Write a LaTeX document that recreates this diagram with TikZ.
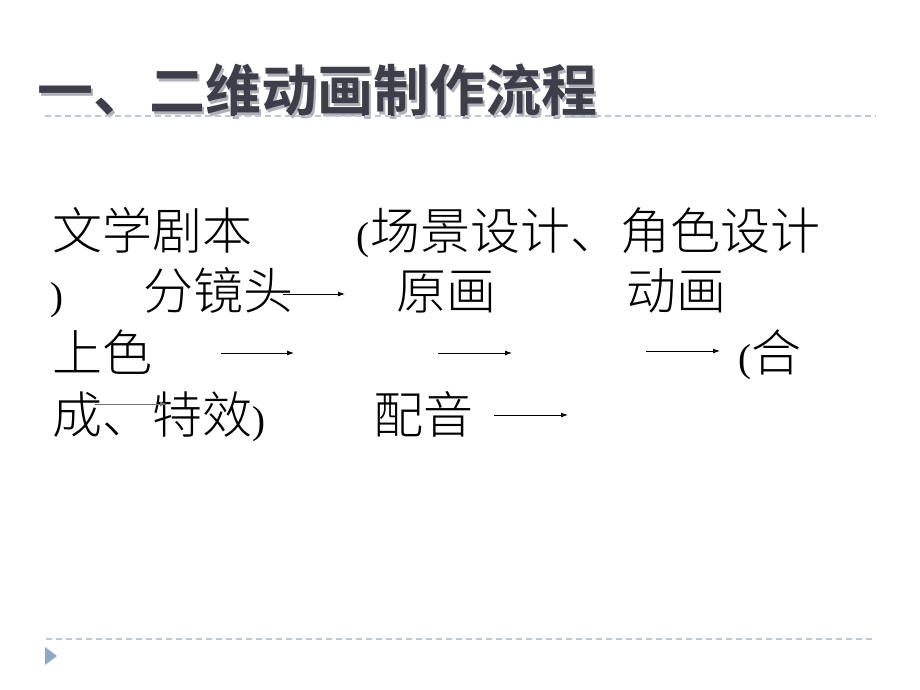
\documentclass[tikz,border=0pt]{standalone}
\usepackage{fontspec}
\newfontfamily\cjkbold{Noto Sans CJK SC Bold}
\newfontfamily\cjklight{Noto Sans CJK SC Light}
\newfontfamily\lser{Liberation Serif}
\usetikzlibrary{arrows.meta}
\definecolor{titlecol}{HTML}{3E3E4A}
\definecolor{shadowcol}{HTML}{B0B0B8}
\definecolor{rulecol}{HTML}{BCC8D8}
\definecolor{tricol}{HTML}{8FA8C8}
\newcommand{\lp}{{\lser\fontsize{39}{42}\selectfont(}}
\newcommand{\rp}{{\lser\fontsize{39}{42}\selectfont)}}
\tikzset{
  body/.style={anchor=base west, inner sep=0pt, font=\cjklight\fontsize{50}{54}\selectfont, text=black},
  titletext/.style={anchor=base west, inner sep=0pt, font=\cjkbold\fontsize{56}{60}\selectfont},
  rule/.style={draw=rulecol, line width=1.4pt, dash pattern=on 6pt off 4pt},
  flow/.style={-{Latex[length=7pt,width=5pt]}, line width=0.9pt, black},
}
\begin{document}
\begin{tikzpicture}[x=1pt,y=-1pt]
\useasboundingbox (0,0) rectangle (920,690);
\fill[white] (0,0) rectangle (920,690);
% title
\node[titletext, text=shadowcol] (tshadow) at (39.5,114.5) {一、二维动画制作流程};
\node[titletext, text=titlecol] (title) at (37,112) {一、二维动画制作流程};
% rules
\coordinate (r1a) at (45,116); \coordinate (r1b) at (876,116);
\draw[rule] (r1a) -- (r1b);
\coordinate (r2a) at (46,639); \coordinate (r2b) at (876,639);
\draw[rule] (r2a) -- (r2b);
\fill[tricol] (45,647) -- (57,656) -- (45,665) -- cycle;
% line 1
\node[body] (t1) at (52,249) {文学剧本};
\node[body] (p1) at (356,249) {\lp\kern1pt 场景设计、角色设计};
% line 2
\node[body] (p2) at (50,309) {\rp};
\node[body] (t2) at (143,309) {分镜头};
\node[body] (t3) at (396,309) {原画};
\node[body] (t4) at (626,309) {动画};
% line 3
\node[body] (t5) at (52,371) {上色};
\node[body] (t6) at (738,371) {\lp 合};
% line 4
\node[body] (t7) at (52,433) {成、特效\rp};
\node[body] (t8) at (373,433) {配音};
% arrows
\coordinate (a1s) at (283,294); \coordinate (a1e) at (345,294);
\draw[flow] (a1s) -- (a1e);
\coordinate (a2s) at (221,353); \coordinate (a2e) at (294,353);
\draw[flow] (a2s) -- (a2e);
\coordinate (a3s) at (438,353); \coordinate (a3e) at (512,353);
\draw[flow] (a3s) -- (a3e);
\coordinate (a4s) at (646,351); \coordinate (a4e) at (720,351);
\draw[flow] (a4s) -- (a4e);
\coordinate (a5s) at (95,404); \coordinate (a5e) at (167,404);
\draw[flow, draw=black!55, fill=black!55] (a5s) -- (a5e);
\coordinate (a6s) at (494,415); \coordinate (a6e) at (568,415);
\draw[flow] (a6s) -- (a6e);
\end{tikzpicture}
\end{document}
